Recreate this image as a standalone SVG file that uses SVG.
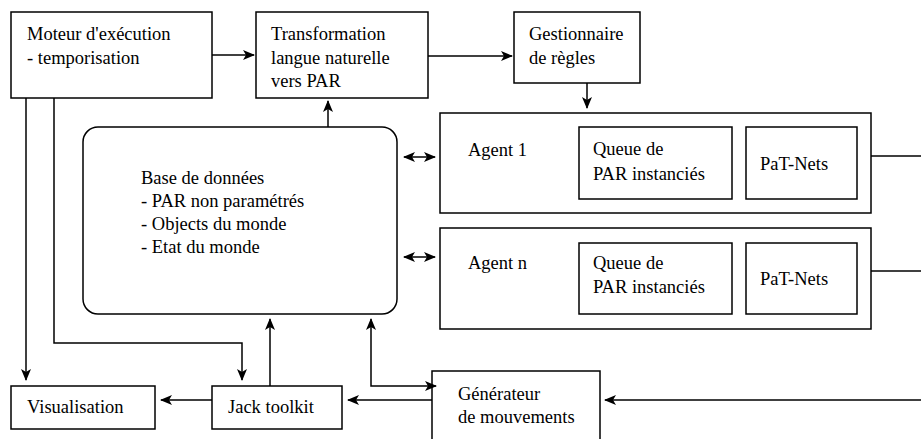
<svg xmlns="http://www.w3.org/2000/svg" width="921" height="439" viewBox="0 0 921 439">
<style>
.b{fill:#fff;stroke:#000;stroke-width:1.5}
.c{fill:none;stroke:#000;stroke-width:1.5}
</style>
<defs>
<marker id="a" viewBox="0 0 12 10" refX="11" refY="5" markerWidth="12" markerHeight="10" markerUnits="userSpaceOnUse" orient="auto-start-reverse">
<path d="M0,0 L12,5 L0,10 L3,5 z" fill="#000"/>
</marker>
</defs>
<rect width="921" height="439" fill="#fff"/>
<g font-family="Liberation Serif, Times New Roman, serif" font-size="18.5" fill="#000">
<g id="moteur"><rect class="b" x="11" y="12" width="201" height="86"/><text x="27" y="40">Moteur d'exécution</text><text x="27" y="64">- temporisation</text></g>
<g id="transformation"><rect class="b" x="256" y="12" width="172" height="86"/><text x="271" y="40">Transformation</text><text x="271" y="64">langue naturelle</text><text x="271" y="87">vers PAR</text></g>
<g id="gestionnaire"><rect class="b" x="514" y="12" width="126" height="71"/><text x="529" y="40">Gestionnaire</text><text x="529" y="64">de règles</text></g>
<g id="base"><rect class="b" x="83" y="127" width="314" height="187" rx="15"/><text x="141" y="184">Base de données</text><text x="141" y="207">- PAR non paramétrés</text><text x="141" y="230">- Objects du monde</text><text x="141" y="253">- Etat du monde</text></g>
<g id="agent1"><rect class="b" x="440" y="113" width="431" height="100"/><text x="468" y="156">Agent 1</text><rect class="b" x="579" y="127" width="153" height="72"/><text x="593" y="155">Queue de</text><text x="593" y="180">PAR instanciés</text><rect class="b" x="746" y="127" width="111" height="72"/><text x="760" y="170">PaT-Nets</text></g>
<g id="agentn"><rect class="b" x="440" y="228" width="431" height="101"/><text x="468" y="269">Agent n</text><rect class="b" x="579" y="243" width="153" height="71"/><text x="593" y="269">Queue de</text><text x="593" y="293">PAR instanciés</text><rect class="b" x="746" y="243" width="111" height="71"/><text x="760" y="285">PaT-Nets</text></g>
<g id="visualisation"><rect class="b" x="11" y="386" width="144" height="43"/><text x="27" y="413">Visualisation</text></g>
<g id="jack"><rect class="b" x="212" y="386" width="130" height="43"/><text x="228" y="413">Jack toolkit</text></g>
<g id="generateur"><rect class="b" x="432" y="371" width="168" height="80"/><text x="458" y="400">Générateur</text><text x="458" y="423">de mouvements</text></g>
</g>
<g id="connectors">
<path class="c" d="M212,55 H254" marker-end="url(#a)"/>
<path class="c" d="M428,56 H512" marker-end="url(#a)"/>
<path class="c" d="M587,83 V108" marker-end="url(#a)"/>
<path class="c" d="M328,127 V101" marker-end="url(#a)"/>
<path class="c" d="M404,157 H435" marker-start="url(#a)" marker-end="url(#a)"/>
<path class="c" d="M404,257 H435" marker-start="url(#a)" marker-end="url(#a)"/>
<path class="c" d="M871,156 H921"/>
<path class="c" d="M871,271 H921"/>
<path class="c" d="M26,98 V380" marker-end="url(#a)"/>
<path class="c" d="M54,98 V343 H242 V380" marker-end="url(#a)"/>
<path class="c" d="M270,386 V319" marker-end="url(#a)"/>
<path class="c" d="M371,319 V386 H436" marker-start="url(#a)" marker-end="url(#a)"/>
<path class="c" d="M432,400 H348" marker-end="url(#a)"/>
<path class="c" d="M212,400 H161" marker-end="url(#a)"/>
<path class="c" d="M921,400 H605" marker-end="url(#a)"/>
</g>
</svg>
